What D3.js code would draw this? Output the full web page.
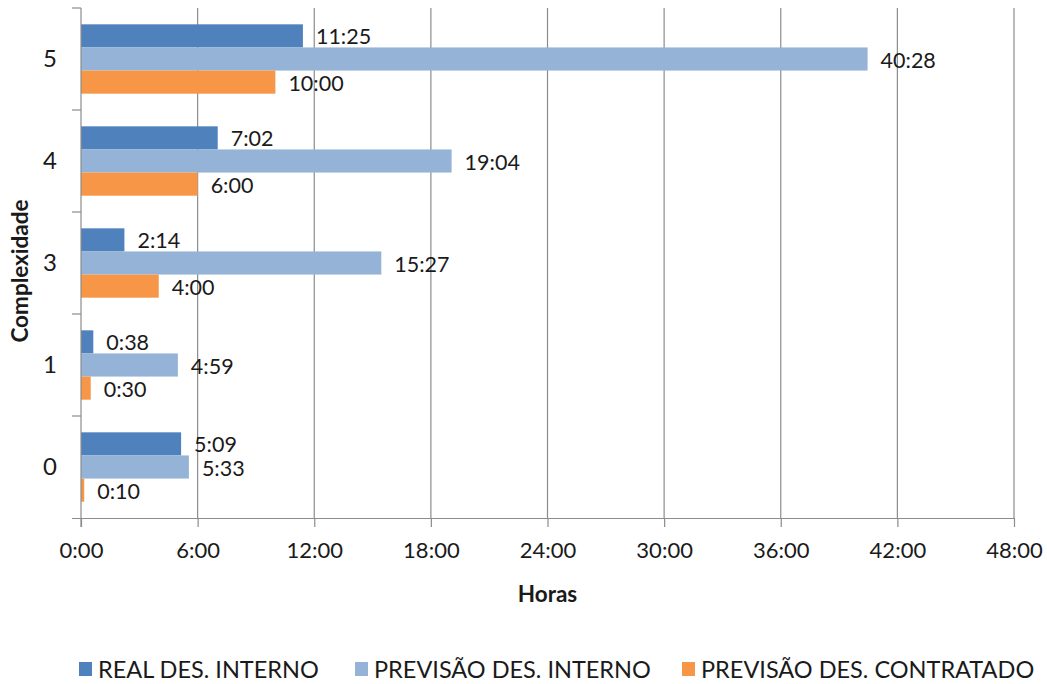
<!DOCTYPE html>
<html>
<head>
<meta charset="utf-8">
<script src="https://cdn.jsdelivr.net/npm/d3@7"></script>
<style>
  body { margin: 0; background: #fff; }
  svg text { font-family: Lato, "Open Sans", sans-serif; fill: #1a1a1a; }
</style>
</head>
<body>
<svg id="chart" width="1047" height="684"></svg>
<script>
// categories top to bottom
const categories = ["5", "4", "3", "1", "0"];
const seriesNames = ["REAL DES. INTERNO", "PREVISÃO DES. INTERNO", "PREVISÃO DES. CONTRATADO"];
// values as h:mm labels
const realInterno = ["11:25", "7:02", "2:14", "0:38", "5:09"];
const previsaoInterno = ["40:28", "19:04", "15:27", "4:59", "5:33"];
const previsaoContratado = ["10:00", "6:00", "4:00", "0:30", "0:10"];
const xTicks = [0, 6, 12, 18, 24, 30, 36, 42, 48];
const colors = ["#4F81BD", "#95B3D7", "#F79646"];

function toHours(s) {
  const p = s.split(":");
  return +p[0] + +p[1] / 60;
}
function fmt(h) { return h + ":00"; }

const series = [realInterno, previsaoInterno, previsaoContratado];

const svg = d3.select("#chart");
const margin = { left: 81, right: 33, top: 8, bottom: 166 };
const width = 1047 - margin.left - margin.right,
      height = 684 - margin.top - margin.bottom;

const g = svg.append("g").attr("transform", `translate(${margin.left},${margin.top})`);

const x = d3.scaleLinear().domain([0, 48]).range([0, width]);
const y = d3.scaleBand().domain(categories).range([0, height]).paddingInner(0.32).paddingOuter(0.16);
const ySub = d3.scaleBand().domain([0, 1, 2]).range([0, y.bandwidth()]);

// gridlines
g.append("g")
  .selectAll("line")
  .data(xTicks.slice(1))
  .join("line")
  .attr("x1", d => x(d)).attr("x2", d => x(d))
  .attr("y1", 0).attr("y2", height)
  .attr("stroke", "#8c8c8c").attr("stroke-width", 1.2);

// bars
categories.forEach((c, i) => {
  series.forEach((s, k) => {
    const v = toHours(s[i]);
    g.append("rect")
      .attr("x", x(0))
      .attr("y", y(c) + ySub(k))
      .attr("width", x(v) - x(0))
      .attr("height", ySub.bandwidth())
      .attr("fill", colors[k]);
    g.append("text")
      .attr("x", x(v) + 13)
      .attr("y", y(c) + ySub(k) + ySub.bandwidth() / 2 + 1)
      .attr("dy", "0.35em")
      .attr("font-size", 21.5)
      .text(s[i]);
  });
});

// x axis
const xAxis = g.append("g")
  .attr("transform", `translate(0,${height})`)
  .call(d3.axisBottom(x).tickValues(xTicks).tickFormat(fmt).tickSizeInner(9).tickSizeOuter(0).tickPadding(15));
xAxis.select(".domain").attr("stroke", "#8c8c8c").attr("stroke-width", 1.2)
  .attr("d", `M-9,0.5H${width}`);
xAxis.selectAll(".tick line").attr("stroke", "#8c8c8c").attr("stroke-width", 1.2);
xAxis.selectAll(".tick text").attr("font-size", 22).attr("fill", "#1a1a1a");

// y axis
const yAxis = g.append("g");
yAxis.append("line").attr("x1", 0).attr("x2", 0).attr("y1", 0).attr("y2", height + 9)
  .attr("stroke", "#8c8c8c").attr("stroke-width", 1.2);
const bandStep = height / categories.length;
yAxis.selectAll("line.tk")
  .data(d3.range(categories.length))
  .join("line").attr("class", "tk")
  .attr("x1", -9).attr("x2", 0)
  .attr("y1", d => d * bandStep).attr("y2", d => d * bandStep)
  .attr("stroke", "#8c8c8c").attr("stroke-width", 1.2);
yAxis.selectAll("text")
  .data(categories)
  .join("text")
  .attr("x", -24)
  .attr("y", d => y(d) + y.bandwidth() / 2)
  .attr("dy", "0.35em")
  .attr("text-anchor", "end")
  .attr("font-size", 24)
  .text(d => d);

// axis titles
svg.append("text")
  .attr("x", margin.left + width / 2)
  .attr("y", 602)
  .attr("text-anchor", "middle")
  .attr("font-size", 22.5).attr("font-weight", "bold")
  .text("Horas");
svg.append("text")
  .attr("transform", `translate(28,${margin.top + height / 2 + 8}) rotate(-90)`)
  .attr("text-anchor", "middle")
  .attr("font-size", 22.5).attr("font-weight", "bold")
  .text("Complexidade");

// legend
const legendX = [79, 355, 682];
const legend = svg.append("g");
seriesNames.forEach((n, k) => {
  legend.append("rect")
    .attr("x", legendX[k]).attr("y", 662).attr("width", 13).attr("height", 14)
    .attr("fill", colors[k]);
  legend.append("text")
    .attr("x", legendX[k] + 19).attr("y", 670)
    .attr("dy", "0.35em")
    .attr("font-size", 23.5)
    .text(n);
});
</script>
</body>
</html>
